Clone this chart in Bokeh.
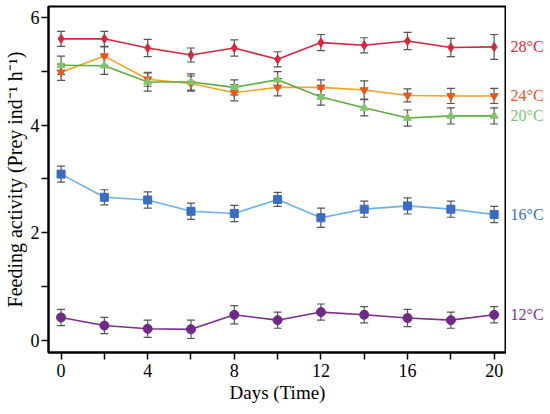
from bokeh.plotting import figure
from bokeh.models import ColumnDataSource, Whisker, TeeHead, FixedTicker, Range1d
from bokeh.layouts import row
from bokeh.core.properties import value
from bokeh.embed import file_html
from bokeh.resources import INLINE

days = [0, 2, 4, 6, 8, 10, 12, 14, 16, 18, 20]

t28 = [5.60, 5.60, 5.43, 5.30, 5.43, 5.22, 5.53, 5.48, 5.56, 5.44, 5.45]
e28 = [0.14, 0.14, 0.16, 0.13, 0.15, 0.14, 0.15, 0.14, 0.16, 0.17, 0.23]
t24 = [4.98, 5.28, 4.85, 4.77, 4.60, 4.70, 4.70, 4.65, 4.55, 4.54, 4.54]
e24 = [0.15, 0.17, 0.13, 0.14, 0.15, 0.16, 0.14, 0.17, 0.12, 0.14, 0.14]
t20 = [5.11, 5.10, 4.80, 4.80, 4.70, 4.84, 4.52, 4.32, 4.13, 4.17, 4.17]
e20 = [0.17, 0.16, 0.17, 0.15, 0.14, 0.15, 0.15, 0.15, 0.15, 0.15, 0.15]
t16 = [3.09, 2.66, 2.61, 2.40, 2.36, 2.62, 2.28, 2.44, 2.50, 2.44, 2.34]
e16 = [0.15, 0.14, 0.15, 0.15, 0.15, 0.13, 0.18, 0.15, 0.15, 0.15, 0.15]
t12 = [0.43, 0.28, 0.22, 0.21, 0.48, 0.38, 0.53, 0.48, 0.42, 0.38, 0.48]
e12 = [0.15, 0.15, 0.16, 0.17, 0.17, 0.15, 0.15, 0.15, 0.16, 0.15, 0.15]

labels = ["28\u00b0C", "24\u00b0C", "20\u00b0C", "16\u00b0C", "12\u00b0C"]
x_ticks = [0, 4, 8, 12, 16, 20]
x_minor = [2, 6, 10, 14, 18]
y_ticks = [0, 2, 4, 6]
y_minor = [1, 3, 5]

FONT = "Liberation Serif"
FRAME_H = 346
TOP = 6

yr = Range1d(-0.22, 6.2)

p = figure(frame_width=458, frame_height=FRAME_H, output_backend="svg", toolbar_location=None,
           x_range=Range1d(-0.58, 20.57), y_range=yr,
           min_border_left=44, min_border_right=0, min_border_top=TOP, min_border_bottom=10)
p.background_fill_color = "white"
p.border_fill_color = "white"
p.grid.visible = False
p.outline_line_color = "black"
p.outline_line_width = 2

for ax in (p.xaxis[0], p.yaxis[0]):
    ax.axis_line_width = 2
    ax.axis_line_color = "black"
    ax.major_tick_in = 0
    ax.major_tick_out = 7
    ax.minor_tick_in = 0
    ax.minor_tick_out = 7
    ax.major_tick_line_width = 1.5
    ax.minor_tick_line_width = 1.5
    ax.major_label_text_font = FONT
    ax.major_label_text_font_size = "18px"
    ax.major_label_text_color = "black"
    ax.axis_label_text_font = FONT
    ax.axis_label_text_font_style = "normal"
    ax.axis_label_text_color = "black"

p.xaxis.ticker = FixedTicker(ticks=x_ticks, minor_ticks=x_minor)
p.yaxis.ticker = FixedTicker(ticks=y_ticks, minor_ticks=y_minor)
p.xaxis.major_label_standoff = 4
p.yaxis.major_label_standoff = 2
p.xaxis.axis_label = "Days (Time)"
p.yaxis.axis_label = "Feeding activity (Prey ind\u207b\u00b9 h\u207b\u00b9)"
p.xaxis.axis_label_text_font_size = "19px"
p.yaxis.axis_label_text_font_size = "20px"
p.xaxis.axis_label_standoff = 2
p.yaxis.axis_label_standoff = 2

series = [
    (t28, e28, "#d7263d", "#d7263d", "#d9283c", "diamond", 9),
    (t24, e24, "#f4a322", "#e8561f", "#e3561f", "inverted_triangle", 8),
    (t20, e20, "#5dad3f", "#82c46a", "#7cc270", "triangle", 8),
    (t16, e16, "#6ab0ea", "#3a6cc0", "#3c6cb8", "square", 8),
    (t12, e12, "#7a2e8e", "#6e2a86", "#7a3290", "circle", 9),
]

side = figure(frame_width=38, frame_height=FRAME_H, output_backend="svg", toolbar_location=None,
              x_range=Range1d(0, 1), y_range=yr,
              min_border_left=0, min_border_right=0, min_border_top=TOP, min_border_bottom=10)
side.axis.visible = False
side.grid.visible = False
side.outline_line_color = None
side.background_fill_color = "white"
side.border_fill_color = "white"

lab_y, lab_c = [], []
for (vals, errs, lc, mc, tc, mk, sz), lab in zip(series, labels):
    src = ColumnDataSource(dict(x=days, y=vals,
                                lo=[v - e for v, e in zip(vals, errs)],
                                hi=[v + e for v, e in zip(vals, errs)]))
    p.line("x", "y", source=src, line_color=lc, line_width=1.6)
    w = Whisker(base="x", lower="lo", upper="hi", source=src,
                line_color="#555555", line_width=1.2,
                upper_head=TeeHead(size=8, line_color="#555555", line_width=1.2),
                lower_head=TeeHead(size=8, line_color="#555555", line_width=1.2))
    p.add_layout(w)
    p.scatter("x", "y", source=src, marker=mk, size=sz, fill_color=mc, line_color=mc)
    lab_y.append(vals[-1])
    lab_c.append(tc)

lsrc = ColumnDataSource(dict(x=[0] * len(labels), y=lab_y, t=labels, c=lab_c))
side.text("x", "y", text="t", source=lsrc, text_color="c", x_offset=4,
          text_font=value(FONT), text_font_size="16px",
          text_baseline="middle", text_align="left")

layout = row(p, side)
open("out.html", "w").write(file_html(layout, INLINE))
